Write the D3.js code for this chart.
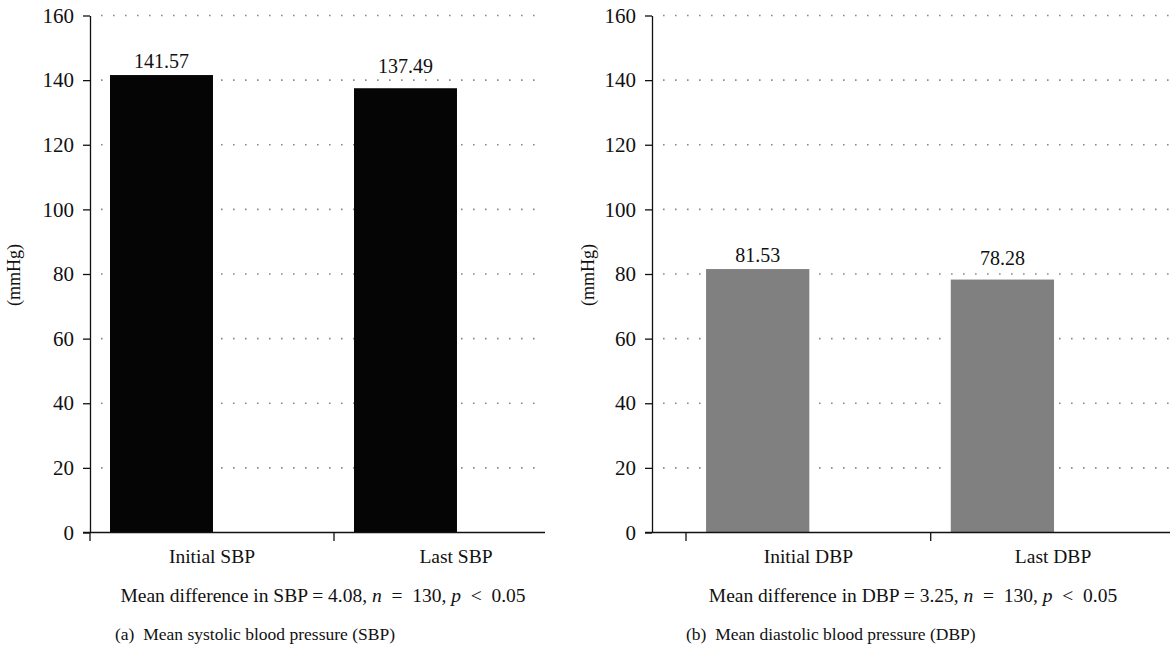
<!DOCTYPE html>
<html>
<head>
<meta charset="utf-8">
<script src="https://cdn.jsdelivr.net/npm/d3@7"></script>
<style>
  body { margin: 0; background: #fff; }
  svg text { font-family: "Liberation Serif", "Times New Roman", Times, serif; fill: #111; }
</style>
</head>
<body>
<svg id="chart" width="1170" height="652"></svg>
<script>
// data
const sbpCategories = ['Initial SBP', 'Last SBP'];
const sbpValues = [141.57, 137.49];
const dbpCategories = ['Initial DBP', 'Last DBP'];
const dbpValues = [81.53, 78.28];
const yTicks = [0, 20, 40, 60, 80, 100, 120, 140, 160];
const yLabel = '(mmHg)';
const sbpNote = ['Mean difference in SBP = 4.08, ', 'n', '\u2002=\u2002130, ', 'p', '\u2002<\u20020.05'];
const dbpNote = ['Mean difference in DBP = 3.25, ', 'n', '\u2002=\u2002130, ', 'p', '\u2002<\u20020.05'];
const sbpCaption = '(a)\u2002Mean systolic blood pressure (SBP)';
const dbpCaption = '(b)\u2002Mean diastolic blood pressure (DBP)';

const svg = d3.select('#chart');
const serif = '"Liberation Serif", "Times New Roman", Times, serif';
const labelGap = [7, 15];

function drawPanel(opt) {
  const g = svg.append('g');
  const y = d3.scaleLinear().domain([0, 160]).range([532.5, 15.5]);
  const x = d3.scaleBand().domain(opt.categories).range([opt.bandStart, opt.bandEnd]);
  const bw = x.bandwidth();

  // dotted grid
  g.append('g').selectAll('line')
    .data(yTicks.filter(d => d > 0))
    .enter().append('line')
    .attr('x1', opt.gridStart).attr('x2', opt.right)
    .attr('y1', d => y(d)).attr('y2', d => y(d))
    .attr('stroke', '#8a8a8a')
    .attr('stroke-width', 1.6)
    .attr('stroke-dasharray', '1.6,10.4');

  // bars
  g.selectAll('rect.bar')
    .data(opt.values)
    .enter().append('rect')
    .attr('class', 'bar')
    .attr('x', (d, i) => x(opt.categories[i]) + bw * 0.082)
    .attr('width', bw * 0.422)
    .attr('y', d => y(d))
    .attr('height', d => y(0) - y(d))
    .attr('fill', opt.color);

  // value labels
  g.selectAll('text.val')
    .data(opt.values)
    .enter().append('text')
    .attr('class', 'val')
    .attr('x', (d, i) => x(opt.categories[i]) + bw * 0.082 + bw * 0.211)
    .attr('y', (d, i) => y(d) - labelGap[i])
    .attr('text-anchor', 'middle')
    .style('font-family', serif)
    .style('font-size', '20px')
    .text(d => d.toFixed(2));

  // y axis
  const yAxis = d3.axisLeft(y).tickValues(yTicks).tickSize(7).tickSizeOuter(0).tickPadding(9);
  const ya = g.append('g').attr('transform', `translate(${opt.axisX},0)`).call(yAxis);
  ya.attr('font-family', serif).attr('font-size', 21);
  ya.select('.domain').attr('stroke', '#111').attr('stroke-width', 1.3);
  ya.selectAll('.tick line').attr('stroke', '#111').attr('stroke-width', 1.3);
  ya.selectAll('.tick text').style('font-size', '21px').style('font-family', serif).attr('fill', '#111');

  // x axis line
  g.append('line')
    .attr('x1', opt.axisX - 7).attr('x2', opt.right)
    .attr('y1', y(0)).attr('y2', y(0))
    .attr('stroke', '#111').attr('stroke-width', 1.3);

  // x ticks at band boundaries
  g.selectAll('line.xtick')
    .data(opt.categories)
    .enter().append('line')
    .attr('class', 'xtick')
    .attr('x1', d => x(d)).attr('x2', d => x(d))
    .attr('y1', y(0)).attr('y2', y(0) + 8.5)
    .attr('stroke', '#111').attr('stroke-width', 1.3);

  // category labels
  g.selectAll('text.cat')
    .data(opt.categories)
    .enter().append('text')
    .attr('class', 'cat')
    .attr('x', d => x(d) + bw / 2)
    .attr('y', 563)
    .attr('text-anchor', 'middle')
    .style('font-family', serif)
    .style('font-size', '19.5px')
    .text(d => d);

  // y label
  g.append('text')
    .attr('transform', `translate(${opt.yLabelX},275) rotate(-90)`)
    .attr('text-anchor', 'middle')
    .style('font-family', serif)
    .style('font-size', '18px')
    .text(yLabel);

  // note line
  const note = g.append('text')
    .attr('x', opt.noteX).attr('y', 602)
    .attr('text-anchor', 'middle')
    .style('font-family', serif)
    .style('font-size', '19.5px');
  opt.note.forEach((t, i) => {
    note.append('tspan').style('font-style', i % 2 === 1 ? 'italic' : 'normal').text(t);
  });

  // caption
  g.append('text')
    .attr('x', opt.captionX).attr('y', 640)
    .style('font-family', serif)
    .style('font-size', '17.5px')
    .text(opt.caption);
}

drawPanel({
  categories: sbpCategories, values: sbpValues, color: '#050505',
  axisX: 90, bandStart: 90, bandEnd: 578, right: 545, gridStart: 101,
  yLabelX: 20, noteX: 323, captionX: 115, note: sbpNote, caption: sbpCaption
});

drawPanel({
  categories: dbpCategories, values: dbpValues, color: '#808080',
  axisX: 652, bandStart: 686, bandEnd: 1175.4, right: 1170, gridStart: 663,
  yLabelX: 594, noteX: 913, captionX: 686, note: dbpNote, caption: dbpCaption
});
</script>
</body>
</html>
